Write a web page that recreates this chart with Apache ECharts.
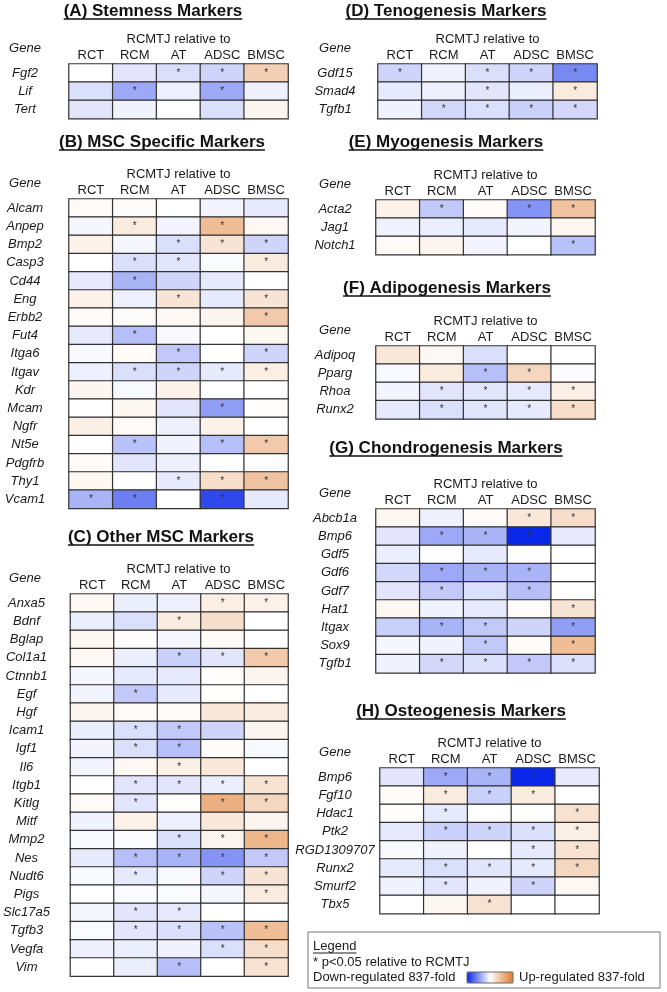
<!DOCTYPE html>
<html><head><meta charset="utf-8">
<script src="https://cdn.jsdelivr.net/npm/echarts@6/dist/echarts.min.js"></script>
<style>html,body{margin:0;padding:0;background:#fff}#c{width:667px;height:992px}</style>
</head><body><div id="c"></div><script>
// ---------- DATA ----------
const columns = ['RCT', 'RCM', 'AT', 'ADSC', 'BMSC'];

const genesA = ['Fgf2', 'Lif', 'Tert'];
const valsA = [[0, -0.12, -0.15, -0.2, 0.35], [-0.15, -0.4, -0.07, -0.4, -0.07], [-0.12, -0.06, 0, -0.15, 0.08]];
const sigA = ['..***', '.*.*.', '.....'];

const genesB = ['Alcam', 'Anpep', 'Bmp2', 'Casp3', 'Cd44', 'Eng', 'Erbb2', 'Fut4', 'Itga6', 'Itgav', 'Kdr', 'Mcam', 'Ngfr', 'Nt5e', 'Pdgfrb', 'Thy1', 'Vcam1'];
const valsB = [
  [0.04, 0.02, 0, -0.05, -0.1], [-0.04, 0.15, -0.05, 0.5, 0.05], [0.1, -0.04, -0.15, 0.2, -0.2],
  [0, -0.15, -0.12, -0.02, 0.15], [-0.1, -0.35, -0.2, -0.1, 0], [0.1, -0.07, 0.2, -0.1, 0.2],
  [0.04, 0.02, 0.05, 0.08, 0.4], [-0.1, -0.3, -0.03, 0, 0.06], [-0.03, 0.03, -0.25, 0, -0.2],
  [-0.07, -0.15, -0.2, -0.1, 0.12], [0.07, -0.03, 0.1, 0, 0], [0, 0.06, -0.12, -0.45, 0.01],
  [0.12, 0.04, -0.07, 0.1, 0], [0, -0.28, -0.06, -0.3, 0.4], [0.03, -0.12, -0.07, 0, -0.01],
  [0.06, 0, -0.1, 0.25, 0.45], [-0.35, -0.6, 0, -0.85, -0.1]];
const sigB = ['.....', '.*.*.', '..***', '.**.*', '.*...', '..*.*', '....*', '.*...', '..*.*', '.****', '.....', '...*.', '.....', '.*.**', '.....', '..***', '**.*.'];

const genesC = ['Anxa5', 'Bdnf', 'Bglap', 'Col1a1', 'Ctnnb1', 'Egf', 'Hgf', 'Icam1', 'Igf1', 'Il6', 'Itgb1', 'Kitlg', 'Mitf', 'Mmp2', 'Nes', 'Nudt6', 'Pigs', 'Slc17a5', 'Tgfb3', 'Vegfa', 'Vim'];
const valsC = [
  [0.05, -0.08, -0.07, 0.12, 0.1], [-0.08, -0.15, 0.15, 0.25, 0], [0.06, 0.02, -0.04, 0.04, 0],
  [0.05, -0.08, -0.22, -0.12, 0.4], [-0.04, -0.1, -0.1, 0.01, 0.08], [-0.05, -0.25, -0.1, 0, 0],
  [0.08, 0.04, 0.03, 0.18, 0.15], [-0.08, -0.15, -0.25, -0.2, 0.08], [-0.05, -0.15, -0.3, 0.03, -0.03],
  [-0.05, 0.05, 0.12, 0.18, 0], [0, -0.12, -0.12, -0.08, 0.22], [0.04, -0.12, 0.01, 0.6, 0.3],
  [-0.06, 0.1, -0.07, 0.18, 0.08], [-0.03, -0.02, -0.15, 0.08, 0.55], [-0.1, -0.3, -0.35, -0.5, -0.25],
  [-0.03, -0.1, -0.03, -0.2, 0.2], [0, -0.02, -0.02, -0.04, 0.15], [-0.04, -0.12, -0.1, 0, 0],
  [-0.02, -0.12, -0.15, -0.28, 0.5], [-0.07, -0.08, -0.06, -0.15, 0.25], [0, -0.08, -0.3, 0, 0.22]];
const sigC = ['...**', '..*..', '.....', '..***', '.....', '.*...', '.....', '.**..', '.**..', '..*..', '.****', '.*.**', '.....', '..***', '.****', '.*.**', '....*', '.**..', '.****', '...**', '..*.*'];

const genesD = ['Gdf15', 'Smad4', 'Tgfb1'];
const valsD = [[-0.2, -0.06, -0.15, -0.2, -0.55], [-0.1, -0.07, -0.12, -0.08, 0.15], [-0.06, -0.18, -0.15, -0.22, -0.18]];
const sigD = ['*.***', '..*.*', '.****'];

const genesE = ['Acta2', 'Jag1', 'Notch1'];
const valsE = [[0.1, -0.25, 0.03, -0.5, 0.45], [-0.06, -0.08, -0.1, -0.05, 0.06], [0.04, 0.08, -0.05, 0, -0.28]];
const sigE = ['.*.**', '.....', '....*'];

const genesF = ['Adipoq', 'Pparg', 'Rhoa', 'Runx2'];
const valsF = [[0.18, 0.05, -0.15, 0, 0], [-0.03, 0.15, -0.3, 0.3, -0.02], [-0.05, -0.12, -0.12, -0.1, 0.12], [-0.1, -0.15, -0.12, -0.1, 0.25]];
const sigF = ['.....', '..**.', '.****', '.****'];

const genesG = ['Abcb1a', 'Bmp6', 'Gdf5', 'Gdf6', 'Gdf7', 'Hat1', 'Itgax', 'Sox9', 'Tgfb1'];
const valsG = [
  [0.06, -0.07, 0.04, 0.18, 0.25], [-0.12, -0.4, -0.35, -1, -0.1], [-0.08, 0, -0.1, 0, 0],
  [-0.18, -0.4, -0.35, -0.35, 0], [-0.12, -0.25, -0.15, -0.3, 0], [0.06, -0.06, -0.1, 0.03, 0.2],
  [-0.22, -0.35, -0.25, -0.2, -0.45], [-0.04, -0.06, -0.25, 0.03, 0.5], [-0.06, -0.18, -0.15, -0.25, -0.15]];
const sigG = ['...**', '.***.', '.....', '.***.', '.*.*.', '....*', '.**.*', '..*.*', '.****'];

const genesH = ['Bmp6', 'Fgf10', 'Hdac1', 'Ptk2', 'RGD1309707', 'Runx2', 'Smurf2', 'Tbx5'];
const valsH = [
  [-0.12, -0.4, -0.35, -1, -0.1], [0.03, 0.15, -0.22, 0.15, 0], [0.01, -0.1, 0, 0.01, 0.22],
  [-0.1, -0.22, -0.2, -0.15, 0.12], [-0.03, -0.06, 0, -0.1, 0.22], [-0.1, -0.15, -0.12, -0.1, 0.3],
  [-0.06, -0.12, -0.06, -0.2, 0.05], [0, 0.06, 0.22, 0, 0]];
const sigH = ['.***.', '.***.', '.*..*', '.****', '...**', '.****', '.*.*.', '..*..'];

const panelTitles = ['(A) Stemness Markers', '(B) MSC Specific Markers', '(C) Other MSC Markers', '(D) Tenogenesis Markers',
  '(E) Myogenesis Markers', '(F) Adipogenesis Markers', '(G) Chondrogenesis Markers', '(H) Osteogenesis Markers'];
const headerText = 'RCMTJ relative to';
const legendTexts = ['Legend', '* p<0.05 relative to RCMTJ', 'Down-regulated 837-fold', 'Up-regulated 837-fold'];

// ---------- LAYOUT ----------
const FONT = '"Liberation Sans", Arial, sans-serif';
const ROW_H = 18.2, GRID_W = 219;
const layout = [
  { genes: genesA, vals: valsA, sig: sigA, left: 69, top: 64, geneX: 25, tx: 153, ty: 11 },
  { genes: genesB, vals: valsB, sig: sigB, left: 69, top: 199, geneX: 25, tx: 162, ty: 142 },
  { genes: genesC, vals: valsC, sig: sigC, left: 69, top: 594, geneX: 25, tx: 161, ty: 537 },
  { genes: genesD, vals: valsD, sig: sigD, left: 378, top: 64, geneX: 335, tx: 446, ty: 11 },
  { genes: genesE, vals: valsE, sig: sigE, left: 376, top: 200, geneX: 335, tx: 446, ty: 142 },
  { genes: genesF, vals: valsF, sig: sigF, left: 376, top: 346, geneX: 335, tx: 447, ty: 288 },
  { genes: genesG, vals: valsG, sig: sigG, left: 376, top: 509, geneX: 335, tx: 446, ty: 448 },
  { genes: genesH, vals: valsH, sig: sigH, left: 380, top: 768, geneX: 335, tx: 461, ty: 711 }
];

const measure = (() => {
  const ctx = document.createElement('canvas').getContext('2d');
  return (t, f) => { ctx.font = f; return ctx.measureText(t).width; };
})();

const grids = [], xAxes = [], yAxes = [], series = [], graphics = [];
layout.forEach((p, i) => {
  const h = p.genes.length * ROW_H;
  grids.push({ left: p.left, top: p.top, width: GRID_W, height: h });
  xAxes.push({
    gridIndex: i, type: 'category', data: columns, position: 'top',
    axisLine: { show: false }, axisTick: { show: false }, splitLine: { show: false },
    axisLabel: { margin: 2, fontSize: 13, color: '#1a1a1a', fontFamily: FONT, interval: 0 }
  });
  yAxes.push({
    gridIndex: i, type: 'category', data: p.genes, inverse: true,
    axisLine: { show: false }, axisTick: { show: false }, splitLine: { show: false },
    axisLabel: { margin: p.left - p.geneX, align: 'center', fontSize: 13, fontStyle: 'italic', color: '#1a1a1a', fontFamily: FONT, interval: 0 }
  });
  const data = [];
  p.vals.forEach((row, r) => row.forEach((v, c) => data.push([c, r, v, p.sig[r][c] === '*' ? 1 : 0])));
  series.push({
    type: 'heatmap', xAxisIndex: i, yAxisIndex: i, data,
    itemStyle: { borderColor: '#333', borderWidth: 1.2 },
    label: { show: true, formatter: q => q.value[3] ? '*' : '', fontSize: 10, color: '#333', fontFamily: FONT },
    emphasis: { disabled: true }, silent: true
  });
  // titles
  const tf = 'bold 17px ' + FONT;
  const tw = measure(panelTitles[i], tf);
  graphics.push({ type: 'text', style: { text: panelTitles[i], x: p.tx, y: p.ty, font: tf, fill: '#111', align: 'center', verticalAlign: 'middle' } });
  graphics.push({ type: 'line', shape: { x1: p.tx - tw / 2, y1: p.ty + 8, x2: p.tx + tw / 2, y2: p.ty + 8 }, style: { stroke: '#111', lineWidth: 1.5 } });
  graphics.push({ type: 'text', style: { text: headerText, x: p.left + GRID_W / 2, y: p.top - 25, font: '13px ' + FONT, fill: '#1a1a1a', align: 'center', verticalAlign: 'middle' } });
  graphics.push({ type: 'text', style: { text: 'Gene', x: p.geneX, y: p.top - 16, font: 'italic 13px ' + FONT, fill: '#1a1a1a', align: 'center', verticalAlign: 'middle' } });
});

// legend box
const lf = '13px ' + FONT;
graphics.push({ type: 'rect', shape: { x: 308, y: 932, width: 352, height: 56 }, style: { fill: 'none', stroke: '#777', lineWidth: 1 } });
graphics.push({ type: 'text', style: { text: legendTexts[0], x: 313, y: 946, font: lf, fill: '#1a1a1a', verticalAlign: 'middle' } });
graphics.push({ type: 'line', shape: { x1: 313, y1: 953, x2: 313 + measure(legendTexts[0], lf), y2: 953 }, style: { stroke: '#1a1a1a', lineWidth: 1 } });
graphics.push({ type: 'text', style: { text: legendTexts[1], x: 313, y: 962, font: lf, fill: '#1a1a1a', verticalAlign: 'middle' } });
graphics.push({ type: 'text', style: { text: legendTexts[2], x: 313, y: 977, font: lf, fill: '#1a1a1a', verticalAlign: 'middle' } });
graphics.push({ type: 'text', style: { text: legendTexts[3], x: 519, y: 977, font: lf, fill: '#1a1a1a', verticalAlign: 'middle' } });
graphics.push({ type: 'rect', shape: { x: 467, y: 972, width: 46, height: 11 }, style: { fill: 'none', stroke: '#666', lineWidth: 1 }, z: 100 });

const chart = echarts.init(document.getElementById('c'), null, { renderer: 'canvas' });
chart.setOption({
  backgroundColor: '#fff',
  animation: false,
  textStyle: { fontFamily: FONT },
  grid: grids, xAxis: xAxes, yAxis: yAxes, series,
  visualMap: {
    type: 'continuous', min: -1, max: 1, dimension: 2, seriesIndex: series.map((_, i) => i),
    calculable: false, orient: 'horizontal', left: 467, top: 972, itemWidth: 11, itemHeight: 46,
    text: null, padding: 0, hoverLink: false,
    inRange: { color: ['#0a28e8', '#ffffff', '#de7a2c'] }
  },
  graphic: graphics
});
</script></body></html>
